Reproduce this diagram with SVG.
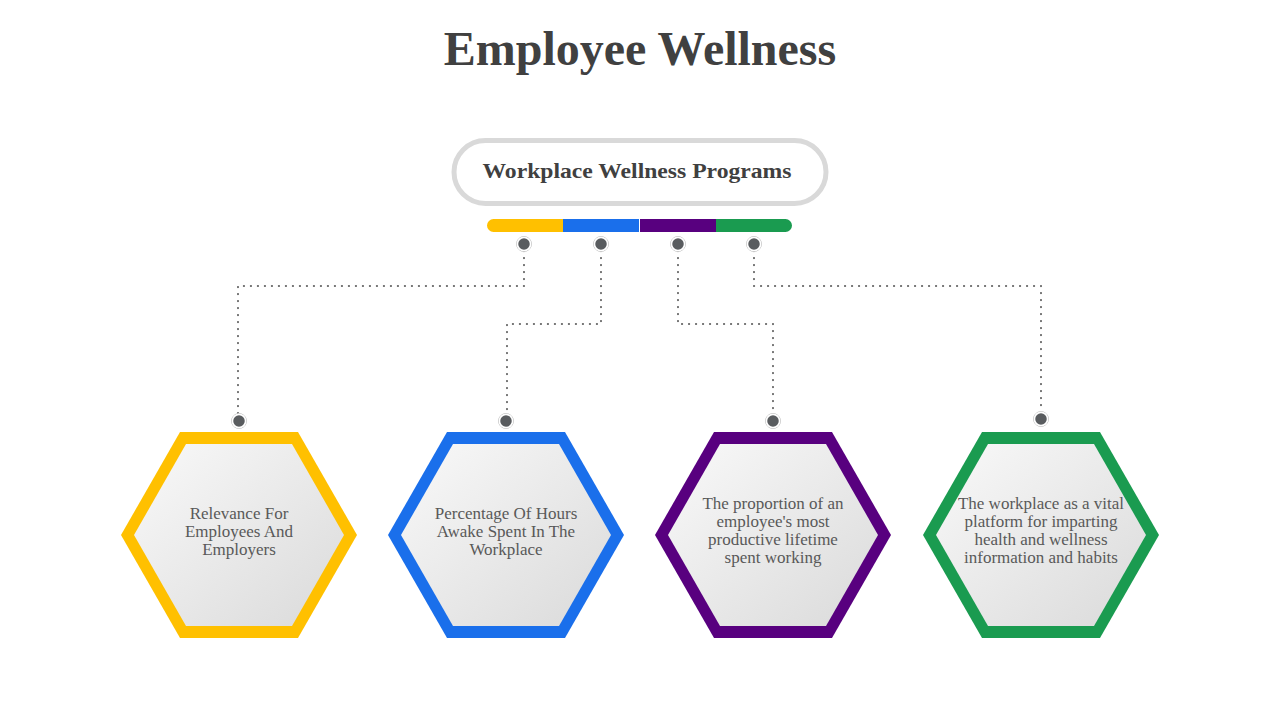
<svg xmlns="http://www.w3.org/2000/svg" width="1280" height="720" viewBox="0 0 1280 720">
<defs>
<linearGradient id="g" x1="0" y1="0" x2="1" y2="1">
<stop offset="0" stop-color="#f9f9f9"/>
<stop offset="1" stop-color="#dadada"/>
</linearGradient>
<style>
.title{font-family:"Liberation Serif","DejaVu Serif",serif;font-weight:bold;font-size:48px;fill:#404040;text-anchor:middle}
.sub{font-family:"Liberation Serif","DejaVu Serif",serif;font-weight:bold;font-size:22px;fill:#404040;text-anchor:middle}
.lbl{font-family:"Liberation Serif","DejaVu Serif",serif;font-size:17px;fill:#595959;text-anchor:middle}
.conn{fill:none;stroke:#666;stroke-width:2.2;stroke-dasharray:0.1 6.9;stroke-linecap:round}
.dot{fill:#595c5f;stroke:#fff;stroke-width:1.5}
.ring{fill:none;stroke:#c8c8c8;stroke-width:1}
.inner{fill:url(#g)}
</style>
</defs>
<rect width="1280" height="720" fill="#fff"/>
<text class="title" x="640" y="65">Employee Wellness</text>

<g id="header">
<rect x="454" y="140.5" width="372" height="63" rx="31.5" fill="#fff" stroke="#d9d9d9" stroke-width="5"/>
<text class="sub" x="637" y="178" textLength="309" lengthAdjust="spacingAndGlyphs">Workplace Wellness Programs</text>
</g>

<g id="bar">
<path d="M563,219 H493.5 A6.5,6.5 0 0 0 493.5,232 H563 Z" fill="#ffc000"/>
<rect x="563" y="219" width="76" height="13" fill="#1a6feb"/>
<rect x="640" y="219" width="76" height="13" fill="#58007f"/>
<path d="M716,219 H785.5 A6.5,6.5 0 0 1 785.5,232 H716 Z" fill="#1a9b50"/>
</g>

<g id="connectors">
<path class="conn" d="M524,251 V286 H238 V414"/>
<path class="conn" d="M601,251 V324 H507 V414"/>
<path class="conn" d="M678,251 V324 H773 V414"/>
<path class="conn" d="M754,251 V286 H1041 V412"/>
<g>
<circle class="ring" cx="524" cy="244" r="7.5"/><circle class="dot" cx="524" cy="244" r="6.5"/>
<circle class="ring" cx="601" cy="244" r="7.5"/><circle class="dot" cx="601" cy="244" r="6.5"/>
<circle class="ring" cx="678" cy="244" r="7.5"/><circle class="dot" cx="678" cy="244" r="6.5"/>
<circle class="ring" cx="754" cy="244" r="7.5"/><circle class="dot" cx="754" cy="244" r="6.5"/>
<circle class="ring" cx="239" cy="421" r="7.5"/><circle class="dot" cx="239" cy="421" r="6.5"/>
<circle class="ring" cx="506" cy="421" r="7.5"/><circle class="dot" cx="506" cy="421" r="6.5"/>
<circle class="ring" cx="773" cy="421" r="7.5"/><circle class="dot" cx="773" cy="421" r="6.5"/>
<circle class="ring" cx="1041" cy="419" r="7.5"/><circle class="dot" cx="1041" cy="419" r="6.5"/>
</g>
</g>

<g id="hex1" transform="translate(239,535)">
<polygon points="-59,-103 59,-103 118,0 59,103 -59,103 -118,0" fill="#ffc000"/>
<polygon class="inner" points="-53,-91 53,-91 105,0 53,91 -53,91 -105,0"/>
<text class="lbl" x="0" y="-16">Relevance For</text>
<text class="lbl" x="0" y="2">Employees And</text>
<text class="lbl" x="0" y="20">Employers</text>
</g>

<g id="hex2" transform="translate(506,535)">
<polygon points="-59,-103 59,-103 118,0 59,103 -59,103 -118,0" fill="#1a6feb"/>
<polygon class="inner" points="-53,-91 53,-91 105,0 53,91 -53,91 -105,0"/>
<text class="lbl" x="0" y="-16">Percentage Of Hours</text>
<text class="lbl" x="0" y="2">Awake Spent In The</text>
<text class="lbl" x="0" y="20">Workplace</text>
</g>

<g id="hex3" transform="translate(773,535)">
<polygon points="-59,-103 59,-103 118,0 59,103 -59,103 -118,0" fill="#58007f"/>
<polygon class="inner" points="-53,-91 53,-91 105,0 53,91 -53,91 -105,0"/>
<text class="lbl" x="0" y="-26">The proportion of an</text>
<text class="lbl" x="0" y="-8">employee's most</text>
<text class="lbl" x="0" y="10">productive lifetime</text>
<text class="lbl" x="0" y="28">spent working</text>
</g>

<g id="hex4" transform="translate(1041,535)">
<polygon points="-59,-103 59,-103 118,0 59,103 -59,103 -118,0" fill="#1a9b50"/>
<polygon class="inner" points="-53,-91 53,-91 105,0 53,91 -53,91 -105,0"/>
<text class="lbl" x="0" y="-26">The workplace as a vital</text>
<text class="lbl" x="0" y="-8">platform for imparting</text>
<text class="lbl" x="0" y="10">health and wellness</text>
<text class="lbl" x="0" y="28">information and habits</text>
</g>
</svg>
